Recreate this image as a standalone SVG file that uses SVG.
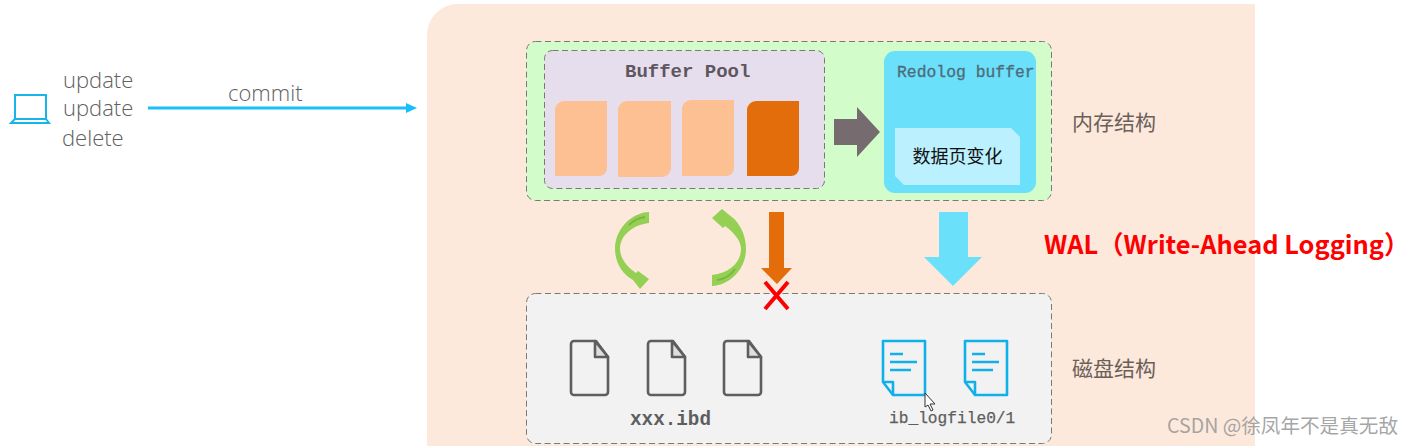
<svg xmlns="http://www.w3.org/2000/svg" width="1414" height="446" viewBox="0 0 1414 446">
<style>
.dash{stroke:#7a7a72;stroke-width:1;stroke-dasharray:6 3.5}
.mono{font-family:"Liberation Mono",monospace}
.thin{font-family:"Open Sans","Noto Sans",sans-serif;font-weight:300;fill:#606060;font-size:22px}
.cjk{font-family:"Noto Sans CJK SC",sans-serif;font-size:21px;fill:#6a605a}
.doc{fill:none;stroke:#5e5e5e;stroke-width:2.6;stroke-linejoin:round}
.fold{fill:#dedede;stroke:#5e5e5e;stroke-width:2.6;stroke-linejoin:round}
.log{fill:none;stroke:#12b0e8;stroke-width:2.6;stroke-linejoin:round}
.green{fill:#94d054}
.greend{fill:none;stroke:#7db544;stroke-width:2}
</style>
<defs>
<g id="docicon"><path class="doc" d="M4 1H26L38 17V52a3 3 0 0 1-3 3H4a3 3 0 0 1-3-3V4a3 3 0 0 1 3-3Z"/><path class="fold" d="M25 1L38 17H25Z"/></g>
<g id="logicon"><path class="log" d="M1 1H43V55H11L1 42Z"/><path class="log" d="M1 42H11V55"/><path class="log" d="M8 14H21M8 22H35M8 30H29"/></g>
</defs>
<rect width="1414" height="446" fill="#fff"/>
<path id="panel" d="M1255 4H458a31 31 0 0 0-31 31V446H1255Z" fill="#fde8dc"/>
<g id="client">
<path d="M15 95H46V119H15Z M15 119L11 123H49L46 119" fill="none" stroke="#16b4ea" stroke-width="2"/>
<text class="thin" x="63" y="88">update</text>
<text class="thin" x="63" y="116">update</text>
<text class="thin" x="62" y="146">delete</text>
</g>
<g id="connectors">
<path d="M148 108H407" stroke="#17c0fa" stroke-width="3" fill="none"/>
<path d="M406 103L417 108L406 113Z" fill="#17c0fa"/>
<text class="thin" x="228" y="101">commit</text>
</g>
<g id="memory">
<rect class="dash" x="526.500" y="41.500" width="525" height="159" rx="9" fill="#d2fdca"/>
<text class="cjk" x="1072" y="130">内存结构</text>
</g>
<g id="buffer-pool">
<rect class="dash" x="544.500" y="50.500" width="280" height="138" rx="8" fill="#e6deec"/>
<text class="mono" x="625" y="77" font-size="19" font-weight="700" fill="#5e5660">Buffer Pool</text>
<path d="M564 101H607V168a8 8 0 0 1-8 8H555V110a9 9 0 0 1 9-9Z" fill="#fcc092"/>
<path d="M627 101H671V168a9 9 0 0 1-9 9H618V110a9 9 0 0 1 9-9Z" fill="#fcc092"/>
<path d="M691 100H734V168a8 8 0 0 1-8 8H682V109a9 9 0 0 1 9-9Z" fill="#fcc092"/>
<path d="M756 101H799V168a8 8 0 0 1-8 8H747V110a9 9 0 0 1 9-9Z" fill="#e36d0b"/>
</g>
<path id="grey-arrow" d="M834 119H857V107L880 132L857 157V145H834Z" fill="#766c70"/>
<g id="redolog-buffer">
<rect x="884" y="51" width="152" height="142" rx="11" fill="#6ae0fb"/>
<text class="mono" x="897" y="77" font-size="16.400" fill="#4f6b78" stroke="#4f6b78" stroke-width=".3">Redolog buffer</text>
<path d="M895 128H1011L1020 137V185H904L895 176Z" fill="#bbf0fe"/>
<text x="957.500" y="163" font-family="'Noto Sans CJK SC',sans-serif" font-size="18" fill="#111" text-anchor="middle">数据页变化</text>
</g>
<g id="flush-arrows">
<path class="green" d="M649 212V223C632 225 620 236 620 249C620 258 627 267 636 273L638 271L649 279L640 289L633 280C622 274 615 262 615 249C615 230 630 213 649 212Z"/>
<path class="greend" d="M645 217C638 218 633 221 629 225"/>
<path class="green" d="M712 286V275C730 273 741 262 741 249C741 240 733 232 725 226L723 228L712 218L722 209L728 214C739 221 746 234 746 249C746 268 731 285 712 286Z"/>
<path class="greend" d="M717 280C725 279 731 275 735 269"/>
</g>
<path id="orange-arrow" d="M769 212H784V268H792L777 284L761 268H769Z" fill="#e36d0b"/>
<path id="blue-arrow" d="M939 212H968V257H982L953 286L924 257H939Z" fill="#6ae0fb"/>
<text x="1044" y="254" font-family="'Noto Sans CJK SC',sans-serif" font-size="25.400" font-weight="700" fill="#fd0000">WAL（Write-Ahead Logging）</text>
<g id="disk">
<rect class="dash" x="526.500" y="293.500" width="525" height="150" rx="9" fill="#f2f2f2"/>
<text class="cjk" x="1072" y="376">磁盘结构</text>
</g>
<g id="ibd-files">
<use href="#docicon" x="570" y="340"/>
<use href="#docicon" x="647" y="340"/>
<use href="#docicon" x="723" y="340"/>
<text class="mono" x="630" y="425" font-size="19.300" font-weight="700" fill="#5e5e5e">xxx.ibd</text>
</g>
<g id="log-files">
<use href="#logicon" x="882" y="340"/>
<use href="#logicon" x="964" y="340"/>
<text class="mono" x="889" y="423" font-size="16.200" fill="#5e5e5e" stroke="#5e5e5e" stroke-width=".25">ib_logfile0/1</text>
</g>
<path id="cross" d="M765 282L788 309M788 282L765 309" stroke="#fd0000" stroke-width="4" fill="none"/>
<path id="cursor" d="M925 393V407L928 405L931 411L933 410L930 404H935Z" fill="#fff" stroke="#333" stroke-width="1"/>
<text id="watermark" x="1167" y="433" font-family="'Noto Sans CJK SC',sans-serif" font-size="19.600" fill="#9a9a9a" fill-opacity=".9">CSDN @徐凤年不是真无敌</text>
</svg>
